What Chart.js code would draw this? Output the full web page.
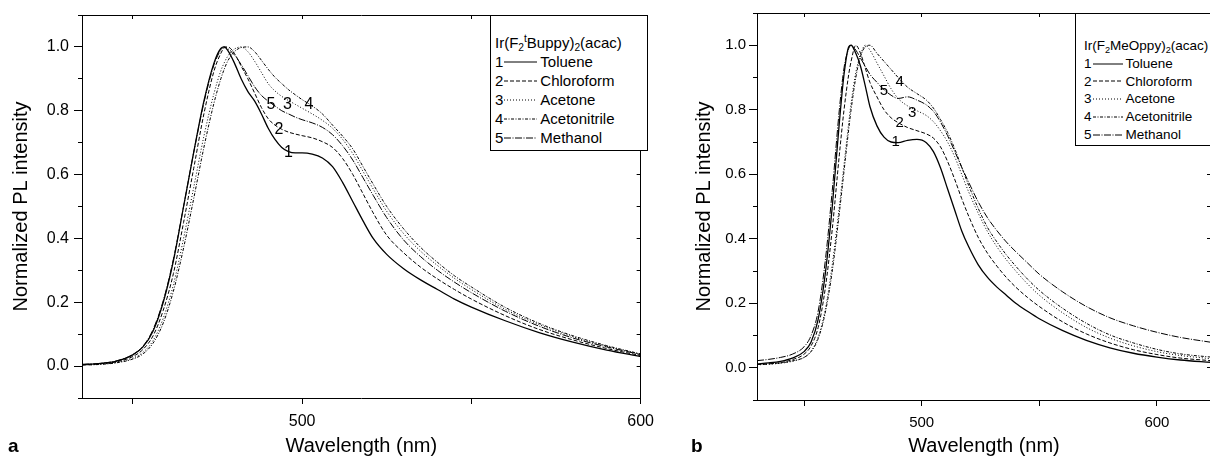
<!DOCTYPE html>
<html>
<head>
<meta charset="utf-8">
<script src="https://cdn.jsdelivr.net/npm/chart.js@4.4.1/dist/chart.umd.min.js"></script>
<style>
  body { margin: 0; width: 1210px; height: 456px; overflow: hidden; background: #fff; position: relative;
         font-family: 'Liberation Sans', Arial, sans-serif; color: #000; }
  canvas { position: absolute; top: 0; }
  #chart-a { left: 0; }
  #chart-b { left: 640px; }
  .legend { position: absolute; background: #fff; border: 1px solid #000; box-sizing: border-box; }
  .legend .row { display: flex; align-items: center; white-space: nowrap; }
  .legend .title { display: block; white-space: nowrap; }
  .legend sub, .legend sup { font-size: 0.68em; line-height: 0; position: relative; vertical-align: baseline; }
  .legend sub { top: 0.32em; }
  .legend sup { top: -0.55em; }
  .panel-tag { position: absolute; font-weight: bold; font-size: 19px; line-height: 19px; }
</style>
</head>
<body>
<canvas id="chart-a" width="662" height="456"></canvas>
<canvas id="chart-b" width="580" height="456"></canvas>
<div id="legend-a" class="legend"></div>
<div id="legend-b" class="legend"></div>
<div class="panel-tag" style="left:8px; top:436px;">a</div>
<div class="panel-tag" style="left:691px; top:436px;">b</div>

<script>
'use strict';

// ******** DATA **************
let solvents = ['Toluene', 'Chloroform', 'Acetone', 'Acetonitrile', 'Methanol'];

// panel a : Ir(F2tBuppy)2(acac)
let wavelengthA = [435, 440, 445, 450, 453, 456, 459, 462, 465, 468, 471, 474, 476, 477, 478,
  480, 482, 484, 486, 488, 490, 492, 494, 496, 498, 500, 503, 506, 509, 512, 515, 518, 521,
  525, 530, 535, 540, 545, 550, 560, 570, 580, 590, 600];
let tolueneA = [0.005, 0.008, 0.015, 0.035, 0.06, 0.11, 0.2, 0.33, 0.5, 0.67, 0.83, 0.95, 0.995, 1.0, 0.99,
  0.95, 0.9, 0.86, 0.83, 0.79, 0.745, 0.71, 0.685, 0.672, 0.668, 0.668, 0.664, 0.652, 0.625, 0.575, 0.515, 0.455, 0.4,
  0.35, 0.305, 0.27, 0.24, 0.21, 0.185, 0.142, 0.105, 0.075, 0.05, 0.03];
let chloroformA = [0.004, 0.007, 0.013, 0.03, 0.052, 0.095, 0.175, 0.29, 0.45, 0.62, 0.79, 0.925, 0.98, 0.997, 1.0,
  0.98, 0.94, 0.9, 0.855, 0.81, 0.775, 0.755, 0.742, 0.733, 0.727, 0.722, 0.715, 0.703, 0.685, 0.65, 0.6, 0.54, 0.48,
  0.41, 0.355, 0.31, 0.273, 0.24, 0.21, 0.158, 0.115, 0.082, 0.055, 0.033];
let acetoneA = [0.003, 0.006, 0.011, 0.025, 0.043, 0.08, 0.15, 0.255, 0.4, 0.56, 0.72, 0.855, 0.925, 0.95, 0.97,
  0.993, 1.0, 0.985, 0.955, 0.92, 0.885, 0.862, 0.845, 0.832, 0.82, 0.808, 0.79, 0.77, 0.745, 0.71, 0.665, 0.61, 0.555,
  0.485, 0.415, 0.36, 0.315, 0.275, 0.24, 0.178, 0.13, 0.092, 0.062, 0.037];
let acetonitrileA = [0.003, 0.005, 0.01, 0.022, 0.038, 0.072, 0.135, 0.235, 0.37, 0.525, 0.685, 0.825, 0.9, 0.93, 0.955,
  0.985, 0.998, 1.0, 0.985, 0.958, 0.93, 0.905, 0.885, 0.866, 0.85, 0.835, 0.815, 0.79, 0.755, 0.72, 0.68, 0.625, 0.57,
  0.5, 0.43, 0.372, 0.325, 0.283, 0.248, 0.184, 0.134, 0.095, 0.064, 0.038];
let methanolA = [0.005, 0.008, 0.016, 0.036, 0.062, 0.115, 0.205, 0.335, 0.5, 0.67, 0.825, 0.945, 0.99, 1.0, 0.995,
  0.975, 0.945, 0.91, 0.875, 0.848, 0.83, 0.815, 0.8, 0.79, 0.78, 0.772, 0.762, 0.748, 0.725, 0.69, 0.645, 0.59, 0.535,
  0.465, 0.395, 0.343, 0.3, 0.263, 0.23, 0.172, 0.125, 0.088, 0.06, 0.036];

// panel b : Ir(F2MeOppy)2(acac)
let wavelengthB = [430, 435, 440, 445, 450, 453, 456, 459, 462, 465, 467, 469, 470, 472, 474, 476, 478,
  481, 484, 487, 490, 494, 498, 502, 505, 508, 511, 514, 517, 520, 524, 528, 532, 536, 540,
  545, 550, 560, 570, 580, 590, 600, 610, 623];
let tolueneB = [0.012, 0.015, 0.02, 0.03, 0.05, 0.08, 0.15, 0.29, 0.5, 0.76, 0.91, 0.995, 1.0, 0.975, 0.935, 0.875, 0.81,
  0.75, 0.715, 0.7, 0.698, 0.705, 0.708, 0.698, 0.67, 0.62, 0.555, 0.49, 0.425, 0.375, 0.32, 0.28, 0.25, 0.225, 0.2,
  0.175, 0.152, 0.115, 0.085, 0.062, 0.045, 0.033, 0.024, 0.017];
let chloroformB = [0.01, 0.012, 0.016, 0.025, 0.042, 0.068, 0.125, 0.245, 0.43, 0.66, 0.8, 0.91, 0.95, 1.0, 0.975, 0.93, 0.885,
  0.84, 0.8, 0.775, 0.76, 0.745, 0.735, 0.725, 0.712, 0.685, 0.64, 0.585, 0.525, 0.47, 0.405, 0.355, 0.315, 0.28, 0.25,
  0.218, 0.19, 0.142, 0.105, 0.077, 0.056, 0.041, 0.03, 0.022];
let acetoneB = [0.009, 0.011, 0.014, 0.02, 0.032, 0.052, 0.095, 0.18, 0.32, 0.5, 0.63, 0.76, 0.82, 0.915, 0.97, 1.0, 0.985,
  0.945, 0.905, 0.865, 0.835, 0.812, 0.797, 0.782, 0.763, 0.735, 0.7, 0.655, 0.6, 0.545, 0.48, 0.422, 0.375, 0.335, 0.3,
  0.26, 0.225, 0.17, 0.125, 0.092, 0.068, 0.05, 0.038, 0.028];
let acetonitrileB = [0.01, 0.012, 0.015, 0.021, 0.032, 0.05, 0.09, 0.17, 0.3, 0.48, 0.61, 0.74, 0.8, 0.9, 0.965, 0.995, 1.0,
  0.975, 0.95, 0.925, 0.9, 0.87, 0.85, 0.83, 0.805, 0.77, 0.73, 0.68, 0.622, 0.565, 0.495, 0.435, 0.39, 0.35, 0.315,
  0.275, 0.24, 0.184, 0.138, 0.102, 0.077, 0.057, 0.043, 0.033];
let methanolB = [0.022, 0.026, 0.032, 0.042, 0.065, 0.1, 0.175, 0.33, 0.55, 0.8, 0.93, 0.99, 1.0, 0.985, 0.96, 0.935, 0.91,
  0.885, 0.862, 0.845, 0.835, 0.84, 0.83, 0.815, 0.795, 0.762, 0.72, 0.672, 0.622, 0.575, 0.515, 0.465, 0.425, 0.39, 0.36,
  0.325, 0.29, 0.235, 0.19, 0.155, 0.13, 0.11, 0.094, 0.079];

// curve number labels (1..5) drawn on the plot, in data units
let numberTextA = ['5', '3', '4', '2', '1'];
let numberWlA = [490.8, 495.7, 502, 493.2, 496];
let numberIntA = [0.82, 0.82, 0.82, 0.74, 0.668];
let numberTextB = ['5', '4', '3', '2', '1'];
let numberWlB = [484, 490.6, 496, 490.6, 489];
let numberIntB = [0.86, 0.887, 0.79, 0.76, 0.70];

// ticks
let xTicks = [450, 500, 550, 600];
let xTickLabels = [500, 600];
let yMajorTicks = [0, 0.2, 0.4, 0.6, 0.8, 1.0];
let yMinorTicks = [-0.1, 0, 0.1, 0.2, 0.3, 0.4, 0.5, 0.6, 0.7, 0.8, 0.9, 1.0, 1.1];

// line styles per solvent
let dashes = [[], [4, 2], [1, 2], [3, 1.5, 1, 1.5], [7, 1.5, 1, 1.5]];

// ********* HELPERS ****************
let FONT = "'Liberation Sans', Arial, sans-serif";

function setTicks(list) {
  return function (scale) {
    scale.ticks = list.map(v => ({ value: v }));
  };
}

let curveNumbers = {
  id: 'curveNumbers',
  afterDatasetsDraw(chart, args, opts) {
    let ctx = chart.ctx;
    let x = chart.scales.x;
    let y = chart.scales.y;
    ctx.save();
    ctx.font = opts.size + 'px ' + FONT;
    ctx.fillStyle = '#000';
    ctx.textAlign = 'center';
    ctx.textBaseline = 'middle';
    for (let i = 0; i < opts.text.length; i++) {
      ctx.fillText(opts.text[i], x.getPixelForValue(opts.wl[i]), y.getPixelForValue(opts.val[i]));
    }
    ctx.restore();
  }
};

function makeChart(canvasId, p) {
  let datasets = solvents.map((name, i) => ({
    label: name,
    data: p.wavelength.map((w, j) => ({ x: w, y: p.series[i][j] })),
    borderColor: '#000',
    borderWidth: i === 0 ? 1.3 : 1,
    borderDash: dashes[i],
    pointRadius: 0,
    cubicInterpolationMode: 'monotone',
    fill: false
  }));

  let frame = { color: '#000', width: 1 };

  return new Chart(document.getElementById(canvasId), {
    type: 'line',
    data: { datasets: datasets },
    plugins: [curveNumbers],
    options: {
      responsive: false,
      animation: false,
      devicePixelRatio: 1,
      layout: { padding: { left: 0, right: p.padRight, top: p.padTop, bottom: 0 } },
      plugins: {
        legend: { display: false },
        tooltip: { enabled: false },
        curveNumbers: { text: p.numText, wl: p.numWl, val: p.numVal, size: p.numSize }
      },
      scales: {
        x: {
          type: 'linear', position: 'bottom', min: p.xMin, max: p.xMax,
          afterBuildTicks: setTicks(xTicks),
          afterFit: s => { s.height = p.xAxisHeight; },
          ticks: {
            autoSkip: false, maxRotation: 0, padding: 8, color: '#000',
            font: { family: FONT, size: p.tickSize },
            callback: v => xTickLabels.includes(v) ? String(v) : ''
          },
          grid: { drawOnChartArea: false, tickLength: 6, color: '#000' },
          border: frame,
          title: {
            display: true, text: 'Wavelength (nm)', color: '#000',
            font: { family: FONT, size: 20, lineHeight: 1 }, padding: { top: 0, bottom: 0 }
          }
        },
        xTop: {
          type: 'linear', position: 'top', min: p.xMin, max: p.xMax,
          afterBuildTicks: setTicks(xTicks),
          afterFit: s => { s.height = 0; },
          ticks: { display: false },
          grid: { drawOnChartArea: false, tickLength: -4, color: '#000' },
          border: frame
        },
        y: {
          type: 'linear', position: 'left', weight: 1, min: -0.1, max: 1.1,
          afterBuildTicks: setTicks(yMajorTicks),
          afterFit: s => { s.width = p.yAxisWidth; },
          ticks: {
            padding: p.yTickPad, color: '#000',
            font: { family: FONT, size: p.tickSize },
            callback: v => v.toFixed(1)
          },
          grid: { drawOnChartArea: false, tickLength: 8, color: '#000' },
          border: frame,
          title: {
            display: true, text: 'Normalized PL intensity', color: '#000',
            font: { family: FONT, size: 20, lineHeight: 1.2 }, padding: { top: p.yTitlePad, bottom: 0 }
          }
        },
        yMinor: {
          type: 'linear', position: 'left', weight: 0, min: -0.1, max: 1.1,
          afterBuildTicks: setTicks(yMinorTicks),
          afterFit: s => { s.width = 0; },
          ticks: { display: false },
          grid: { drawOnChartArea: false, tickLength: 4, color: '#000' },
          border: { display: false }
        },
        yRight: {
          type: 'linear', position: 'right', min: -0.1, max: 1.1,
          afterBuildTicks: setTicks(yMinorTicks),
          afterFit: s => { s.width = 0; },
          ticks: { display: false },
          grid: { drawOnChartArea: false, tickLength: -4, color: '#000' },
          border: frame
        }
      }
    }
  });
}

function renderLegend(elId, p) {
  let el = document.getElementById(elId);
  Object.assign(el.style, {
    left: p.left + 'px', top: p.top + 'px', width: p.width + 'px', height: p.height + 'px',
    fontSize: p.fontSize + 'px', lineHeight: p.rowHeight + 'px', paddingLeft: p.padLeft + 'px',
    paddingTop: p.padTop + 'px'
  });
  let html = '<div class="title">' + p.title + '</div>';
  solvents.forEach((name, i) => {
    html += '<div class="row"><span>' + (i + 1) + '</span>' +
      '<svg width="' + p.lineLen + '" height="6" style="margin:0 3px 0 1px">' +
      '<line x1="0" y1="3" x2="' + p.lineLen + '" y2="3" stroke="#000" stroke-width="1" stroke-dasharray="' +
      (dashes[i].length ? dashes[i].join(' ') : 'none') + '"/></svg>' +
      '<span>' + name + '</span></div>';
  });
  el.innerHTML = html;
}

// ********* RENDER *******************
makeChart('chart-a', {
  wavelength: wavelengthA,
  series: [tolueneA, chloroformA, acetoneA, acetonitrileA, methanolA],
  xMin: 435, xMax: 600,
  padRight: 15, padTop: 15, xAxisHeight: 58, yAxisWidth: 82,
  yTickPad: 5, yTitlePad: 9, tickSize: 16,
  numText: numberTextA, numWl: numberWlA, numVal: numberIntA, numSize: 16
});

makeChart('chart-b', {
  wavelength: wavelengthB,
  series: [tolueneB, chloroformB, acetoneB, acetonitrileB, methanolB],
  xMin: 430, xMax: 623,
  padRight: 9, padTop: 13, xAxisHeight: 56, yAxisWidth: 117,
  yTickPad: 3, yTitlePad: 52, tickSize: 15,
  numText: numberTextB, numWl: numberWlB, numVal: numberIntB, numSize: 15
});

renderLegend('legend-a', {
  left: 490, top: 15, width: 158, height: 136, padLeft: 4, padTop: 17, rowHeight: 19, fontSize: 15, lineLen: 33,
  title: 'Ir(F<sub>2</sub><sup>t</sup>Buppy)<sub>2</sub>(acac)'
});

renderLegend('legend-b', {
  left: 1075, top: 13, width: 140, height: 133, padLeft: 8, padTop: 23, rowHeight: 17.8, fontSize: 13.5, lineLen: 30,
  title: 'Ir(F<sub>2</sub>MeOppy)<sub>2</sub>(acac)'
});
</script>
</body>
</html>
